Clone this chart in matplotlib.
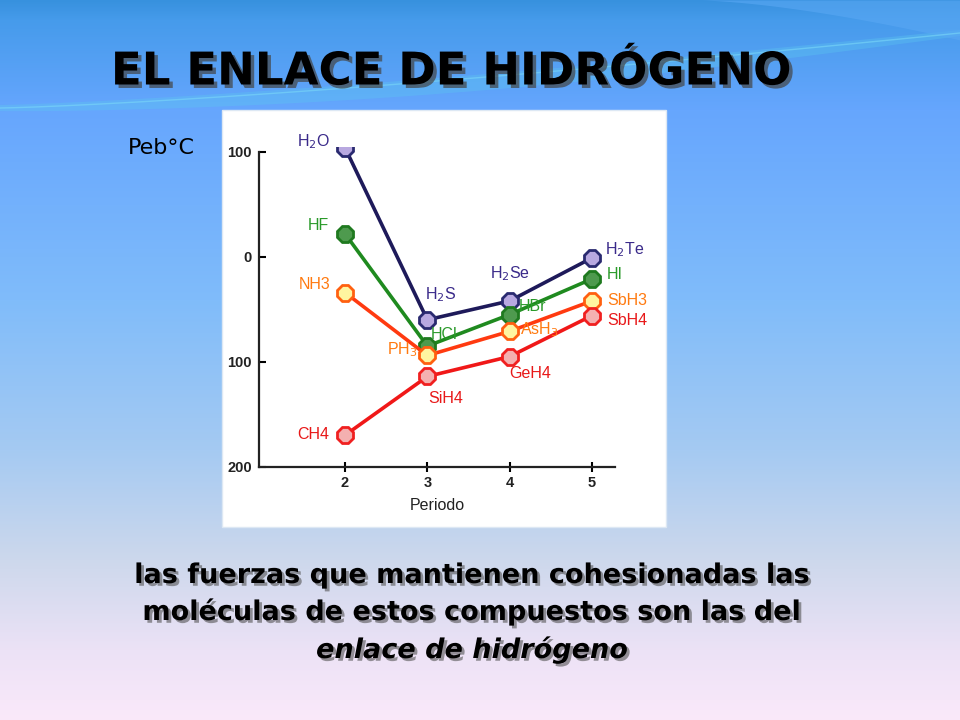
import numpy as np
import matplotlib.pyplot as plt
from matplotlib import patheffects as pe
from matplotlib.patches import Rectangle

# datos (punto de ebullicion, grados C)
periodos = [2, 3, 4, 5]
grupo16 = [104, -60, -42, -1]      # H2O, H2S, H2Se, H2Te
grupo17 = [22, -85, -55, -21]      # HF, HCl, HBr, HI
grupo15 = [-34, -94, -71, -42]     # NH3, PH3, AsH3, SbH3
grupo14 = [-170, -114, -95, -56]   # CH4, SiH4, GeH4, SbH4

nombres16 = ['H$_2$O', 'H$_2$S', 'H$_2$Se', 'H$_2$Te']
nombres17 = ['HF', 'HCl', 'HBr', 'HI']
nombres15 = ['NH3', 'PH$_3$', 'AsH$_3$', 'SbH3']
nombres14 = ['CH4', 'SiH4', 'GeH4', 'SbH4']

yticks = [100, 0, -100, -200]
ytick_labels = ['100', '0', '100', '200']

titulo = 'EL ENLACE DE HIDRÓGENO'
texto = ['las fuerzas que mantienen cohesionadas las',
         'moléculas de estos compuestos son las del',
         'enlace de hidrógeno']

fig = plt.figure(figsize=(9.6, 7.2), dpi=100)

# fondo degradado
bg = fig.add_axes([0, 0, 1, 1], zorder=-10)
stops_y = [0, 20, 110, 300, 450, 560, 650, 720]
stops_c = np.array([(55, 145, 222), (70, 155, 235), (102, 166, 254), (128, 188, 250),
                    (165, 202, 242), (205, 216, 236), (236, 226, 246), (250, 233, 250)]) / 255
yy = np.arange(720)
grad = np.stack([np.interp(yy, stops_y, stops_c[:, i]) for i in range(3)], axis=1)
bg.imshow(np.repeat(grad[:, None, :], 960, axis=1), extent=(0, 960, 720, 0), aspect='auto')
xs = np.linspace(0, 960, 300)
up = 105 - 75 * (xs / 960) ** 1.3
bg.fill_between(xs, up, up + 6 + 10 * np.sin(xs / 960 * np.pi), color='#5cc8f0', alpha=0.35, lw=0)
bg.plot(xs, up + 3, color='#7ad8f8', lw=1, alpha=0.6)
xw = np.linspace(700, 960, 100)
bg.fill_between(xw, 0, 40 * ((xw - 700) / 260) ** 1.5, color='#5aa8f4', alpha=0.6, lw=0)
bg.set_xlim(0, 960)
bg.set_ylim(720, 0)
bg.axis('off')

# recuadro blanco
fig.patches.append(Rectangle((222 / 960, 1 - 527 / 720), 444 / 960, 417 / 720,
                             transform=fig.transFigure, facecolor='white',
                             edgecolor='#dde8f4', lw=1, zorder=-5))

ax = fig.add_axes([259 / 960, 253.3 / 720, 356 / 960, 320 / 720])
ax.patch.set_alpha(0)

series = [
    (grupo16, nombres16, '#1e1a5a', '#b8a8e0', '#2a2a70', '#3a2a8a',
     [(-15, 6, 'right'), (-2, 25, 'left'), (-20, 27, 'left'), (13, 8, 'left')]),
    (grupo17, nombres17, '#1f8a1f', '#4e9a4e', '#1f7a1f', '#2a9a2a',
     [(-16, 8, 'right'), (3, 12, 'left'), (9, 8, 'left'), (15, 4, 'left')]),
    (grupo15, nombres15, '#ff3a10', '#fff5a0', '#ff6010', '#ff7a10',
     [(-15, 8, 'right'), (-10, 6, 'right'), (10, 2, 'left'), (15, 0, 'left')]),
    (grupo14, nombres14, '#f01818', '#f4b0b0', '#f02020', '#e81818',
     [(-16, 1, 'right'), (1, -22, 'left'), (0, -17, 'left'), (15, -5, 'left')]),
]

for vals, noms, lc, fc, ec, tc, offs in series:
    ax.plot(periodos, vals, color=lc, lw=2.6, marker='8', markersize=12,
            markerfacecolor=fc, markeredgecolor=ec, markeredgewidth=2)
    for x, v, n, (dx, dy, ha) in zip(periodos, vals, noms, offs):
        ax.annotate(n, (x, v), xytext=(dx * 0.72, dy * 0.72), textcoords='offset points',
                    ha=ha, va='center', color=tc, fontsize=11.5, family='Liberation Sans')

ax.set_xlim(0.955, 5.28)
ax.set_ylim(-200, 105)
ax.spines['top'].set_visible(False)
ax.spines['right'].set_visible(False)
ax.spines['left'].set_bounds(-200, 100)
for s in ['left', 'bottom']:
    ax.spines[s].set_linewidth(1.6)
    ax.spines[s].set_color('#222222')
ax.set_xticks(periodos)
ax.set_yticks(yticks)
ax.set_yticklabels(ytick_labels)
ax.tick_params(axis='y', direction='in', length=5, width=1.5, pad=5, labelsize=10.5)
ax.tick_params(axis='x', direction='inout', length=7, width=1.5, pad=3, labelsize=10.5)
for lab in ax.get_xticklabels() + ax.get_yticklabels():
    lab.set_family('Liberation Sans')
    lab.set_fontweight('bold')
    lab.set_color('#222222')
ax.set_xlabel('Periodo', family='Liberation Sans', fontsize=11.5, color='#222222', labelpad=6)

fig.text(451 / 960, 1 - 72 / 720, titulo, ha='center', va='center', fontsize=32.5,
         fontweight='bold', family='DejaVu Sans', color='black',
         path_effects=[pe.withSimplePatchShadow(offset=(2.5, -2.5), shadow_rgbFace='#444444', alpha=0.7)])
fig.text(161 / 960, 1 - 148 / 720, 'Peb°C', ha='center', va='center', fontsize=16,
         family='DejaVu Sans', color='black')

for i, (linea, y) in enumerate(zip(texto, [576, 612, 650])):
    fig.text(472 / 960, 1 - y / 720, linea, ha='center', va='center', fontsize=19.5,
             fontweight='bold', family='DejaVu Sans', style='italic' if i == 2 else 'normal',
             color='black',
             path_effects=[pe.withSimplePatchShadow(offset=(2, -2), shadow_rgbFace='#555555', alpha=0.6)])

fig.savefig('out.png', dpi=100)
